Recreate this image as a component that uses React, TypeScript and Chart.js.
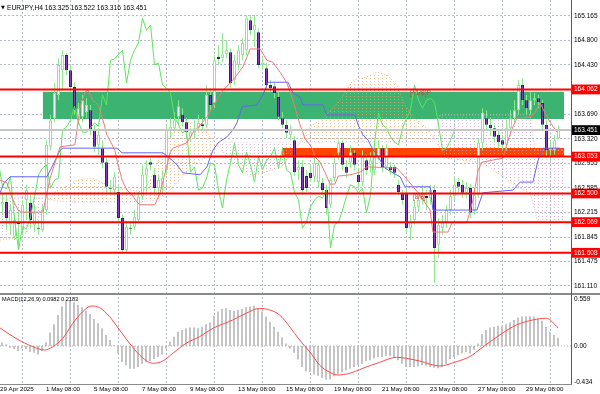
import React, { useEffect, useRef } from "react";
import { Chart, registerables } from "chart.js";

Chart.register(...registerables);

// ---------------- data (H4 candles, bar index 0..139) ----------------
const barOpen = [
  162.33, 162.37, 162.03, 161.85, 162.07, 161.95, 162.40, 162.36, 162.03, 161.98,
  161.95, 162.25, 163.20, 163.63, 163.98, 164.35, 164.58, 164.35, 164.10, 163.60,
  163.65, 163.72, 163.75, 163.45, 163.23, 163.18, 162.97, 162.58, 162.55, 162.52,
  162.13, 161.65, 161.98, 162.00, 162.10, 162.45, 162.78, 162.97, 162.78, 162.58,
  162.60, 162.85, 163.45, 163.48, 163.65, 163.68, 163.57, 163.35, 163.41, 163.48,
  163.54, 163.53, 163.98, 163.86, 164.55, 164.53, 164.59, 164.62, 164.20, 164.43,
  164.58, 164.65, 165.10, 164.95, 164.92, 164.43, 164.38, 164.13, 164.11, 163.95,
  163.63, 163.53, 163.38, 163.30, 162.85, 162.90, 162.76, 162.81, 162.75, 162.67,
  162.66, 162.55, 162.33, 162.73, 163.11, 163.26, 162.90, 162.96, 163.11, 162.78,
  162.67, 163.00, 162.93, 162.85, 163.05, 163.18, 162.90, 162.90, 162.90, 162.63,
  162.51, 162.51, 161.98, 162.10, 162.30, 162.40, 162.46, 162.43, 162.55, 161.73,
  161.98, 162.07, 162.25, 162.46, 162.67, 162.63, 162.51, 162.58, 162.25, 162.48,
  163.26, 163.63, 163.53, 163.48, 163.38, 163.30, 163.23, 163.48, 163.63, 163.75,
  164.13, 163.90, 163.75, 163.90, 163.93, 163.86, 163.53, 163.15, 163.15, 163.325,
];
const barHigh = [
  162.51, 162.51, 162.33, 162.18, 162.25, 162.40, 162.63, 162.48, 162.33, 162.10,
  162.33, 163.30, 163.68, 164.16, 164.53, 164.65, 164.61, 164.43, 164.17, 163.86,
  163.98, 163.93, 163.83, 163.53, 163.48, 163.30, 163.03, 162.70, 162.82, 162.63,
  162.18, 162.07, 162.07, 162.25, 162.52, 162.93, 163.00, 163.03, 162.88, 162.78,
  162.85, 163.53, 163.63, 163.72, 163.90, 163.78, 163.63, 163.48, 163.60, 163.68,
  163.63, 164.13, 164.08, 164.58, 164.73, 164.91, 164.80, 164.68, 164.58, 164.73,
  164.83, 165.18, 165.18, 165.18, 164.98, 164.53, 164.46, 164.20, 164.17, 164.02,
  163.72, 163.60, 163.53, 163.36, 163.00, 163.00, 162.85, 162.93, 163.08, 163.00,
  162.73, 162.63, 162.73, 163.08, 163.30, 163.30, 163.00, 163.23, 163.15, 162.88,
  163.15, 163.08, 163.12, 163.15, 163.30, 163.23, 163.24, 162.97, 162.93, 162.70,
  162.55, 162.55, 162.18, 162.40, 162.48, 162.63, 162.55, 162.63, 162.63, 162.13,
  162.18, 162.33, 162.55, 162.73, 162.73, 162.70, 162.66, 162.64, 162.58, 163.33,
  163.78, 163.75, 163.63, 163.53, 163.45, 163.38, 163.60, 163.75, 163.90, 164.20,
  164.23, 163.98, 164.02, 164.01, 163.98, 163.90, 163.60, 163.30, 163.38, 163.522,
];
const barLow = [
  162.18, 161.95, 161.88, 161.80, 161.65, 161.88, 162.10, 161.98, 161.92, 161.88,
  161.92, 162.18, 163.15, 163.57, 163.90, 164.05, 164.28, 164.02, 163.68, 163.53,
  163.57, 163.63, 163.38, 163.12, 163.08, 162.88, 162.52, 162.48, 162.48, 162.07,
  161.62, 161.60, 161.88, 161.95, 162.06, 162.40, 162.52, 162.85, 162.52, 162.48,
  162.52, 162.78, 163.33, 163.42, 163.53, 163.50, 163.33, 163.27, 163.33, 163.42,
  163.45, 163.48, 163.75, 163.78, 164.43, 164.47, 164.53, 164.08, 164.13, 164.35,
  164.50, 164.58, 164.88, 164.70, 164.38, 164.35, 164.05, 164.02, 163.93, 163.60,
  163.48, 163.33, 163.30, 162.76, 162.70, 162.48, 162.52, 162.67, 162.67, 162.58,
  162.48, 162.18, 162.28, 162.67, 163.00, 162.85, 162.73, 162.88, 162.85, 162.58,
  162.61, 162.78, 162.82, 162.78, 163.00, 162.82, 162.85, 162.78, 162.73, 162.48,
  162.33, 161.92, 161.80, 162.03, 162.22, 162.33, 162.25, 162.33, 161.15, 161.53,
  161.88, 161.98, 162.18, 162.40, 162.52, 162.43, 162.43, 162.13, 162.18, 162.43,
  163.15, 163.45, 163.38, 163.27, 163.18, 163.15, 163.15, 163.42, 163.57, 163.68,
  163.83, 163.68, 163.68, 163.83, 163.78, 163.45, 163.03, 163.00, 163.08, 163.316,
];
const barClose = [
  162.37, 162.13, 162.25, 162.10, 162.04, 162.33, 162.55, 162.10, 162.21, 161.97,
  162.25, 163.23, 163.60, 164.01, 164.43, 164.58, 164.35, 164.10, 163.75, 163.78,
  163.90, 163.83, 163.45, 163.20, 163.38, 162.96, 162.60, 162.57, 162.75, 162.13,
  161.65, 162.00, 161.97, 162.15, 162.45, 162.78, 162.88, 162.93, 162.58, 162.70,
  162.73, 163.45, 163.50, 163.60, 163.81, 163.57, 163.42, 163.42, 163.48, 163.56,
  163.51, 163.98, 163.83, 164.50, 164.52, 164.59, 164.65, 164.16, 164.50, 164.65,
  164.76, 165.13, 164.95, 165.03, 164.43, 164.46, 164.13, 164.08, 164.01, 163.65,
  163.53, 163.41, 163.45, 162.82, 162.90, 162.55, 162.58, 162.73, 162.96, 162.93,
  162.55, 162.28, 162.70, 162.96, 163.26, 162.93, 162.81, 163.12, 162.93, 162.67,
  163.05, 162.85, 163.00, 163.05, 163.18, 162.88, 163.18, 162.85, 162.81, 162.52,
  162.40, 161.98, 162.07, 162.30, 162.40, 162.46, 162.43, 162.55, 161.68, 162.03,
  162.07, 162.25, 162.46, 162.63, 162.60, 162.51, 162.58, 162.21, 162.48, 163.26,
  163.71, 163.53, 163.48, 163.35, 163.27, 163.23, 163.48, 163.63, 163.75, 164.13,
  163.90, 163.78, 163.90, 163.93, 163.87, 163.53, 163.15, 163.18, 163.30, 163.451,
];

// Ichimoku lines (bar position, price)
const tenkanX = [-0.6, 1.1, 2.6, 3.9, 4.9, 10.1, 11.9, 14.4, 18.1, 19.4, 20.6, 21.4, 22.6, 23.9, 24.9, 26.1, 27.4, 28.1, 28.6, 29.9, 31.1, 32.4, 33.6, 34.4, 38.1, 39.4, 41.9, 42.6, 46.1, 47.6, 49.9, 51.1, 53.1, 55.1, 57.6, 60.1, 61.9, 64.4, 66.1, 67.6, 69.4, 71.1, 72.6, 74.4, 75.6, 77.4, 78.1, 79.4, 80.6, 81.9, 83.1, 83.9, 86.9, 89.4, 91.1, 98.6, 100.6, 103.9, 106.9, 107.6, 111.4, 112.4, 116.1, 117.6, 118.9, 119.9, 125.1, 126.4, 127.6, 128.6, 131.9, 133.1, 134.4, 135.6, 136.9, 138.6];
const tenkanY = [162.70, 162.66, 162.40, 162.25, 162.22, 162.22, 162.73, 163.20, 163.23, 163.80, 164.02, 164.05, 163.90, 163.83, 163.65, 163.38, 163.23, 163.15, 163.00, 162.70, 162.55, 162.48, 162.37, 162.33, 162.33, 162.51, 163.11, 163.18, 163.26, 163.41, 163.56, 163.65, 163.86, 164.05, 164.20, 164.40, 164.67, 164.67, 164.50, 164.47, 164.32, 164.16, 163.90, 163.53, 163.33, 163.18, 163.05, 162.97, 162.82, 162.64, 162.64, 162.76, 162.78, 162.82, 162.90, 162.88, 162.75, 162.51, 162.25, 161.92, 161.92, 162.06, 162.06, 162.40, 162.85, 162.97, 163.03, 163.30, 163.50, 163.63, 163.65, 163.71, 163.86, 163.71, 163.57, 163.42];
const kijunX = [-0.6, 0.4, 1.9, 11.1, 12.4, 14.4, 15.1, 28.6, 29.9, 40.1, 42.4, 43.6, 45.1, 49.4, 51.1, 52.6, 53.9, 56.1, 57.6, 58.6, 59.9, 63.6, 65.1, 66.4, 71.4, 72.6, 74.4, 75.1, 80.1, 81.1, 88.1, 88.9, 90.1, 91.4, 92.4, 93.6, 95.6, 97.6, 99.4, 100.6, 106.9, 107.6, 118.6, 120.1, 127.6, 129.4, 132.6, 133.9, 135.1, 139.4];
const kijunY = [162.51, 162.66, 162.75, 162.75, 162.90, 163.15, 163.18, 163.18, 163.11, 163.11, 163.00, 162.93, 162.81, 162.78, 162.90, 163.15, 163.26, 163.35, 163.45, 163.56, 163.80, 163.83, 163.98, 164.17, 164.17, 164.01, 163.95, 163.83, 163.83, 163.68, 163.68, 163.53, 163.38, 163.30, 163.18, 163.08, 162.88, 162.81, 162.75, 162.60, 162.60, 162.25, 162.25, 162.51, 162.55, 162.67, 162.67, 163.00, 163.18, 163.18];
const cloudX = [-0.6, 4.4, 8.1, 10.6, 13.1, 18.6, 22.6, 26.1, 29.4, 35.1, 36.9, 39.4, 42.6, 45.1, 47.6, 50.1, 51.9, 53.6, 55.6, 58.1, 61.9, 65.6, 69.4, 73.1, 76.9, 80.1, 84.4, 87.6, 91.1, 93.6, 96.1, 98.6, 100.6, 102.6, 105.6, 107.4, 109.4, 111.1, 120.1, 125.1, 128.6, 131.9, 133.1, 133.6, 140.6];
const spanA = [161.80, 161.83, 162.03, 162.33, 162.52, 162.70, 162.73, 162.63, 162.58, 162.52, 162.70, 163.05, 163.41, 163.56, 163.57, 163.50, 163.35, 163.24, 163.08, 162.93, 162.75, 162.82, 162.88, 163.15, 163.50, 163.63, 163.90, 164.20, 164.25, 164.32, 164.28, 164.13, 163.83, 163.65, 163.50, 163.38, 163.18, 163.03, 162.96, 162.75, 162.60, 162.51, 162.25, 162.10, 162.10];
const spanB = [162.43, 162.43, 162.43, 162.43, 162.39, 162.37, 162.37, 162.37, 162.37, 162.37, 162.39, 162.40, 162.60, 162.75, 162.93, 163.02, 163.08, 163.20, 163.27, 163.27, 163.27, 163.27, 163.27, 163.27, 163.27, 163.27, 163.27, 163.27, 163.27, 163.27, 163.27, 163.27, 163.27, 163.27, 163.27, 163.27, 163.68, 163.68, 163.68, 163.68, 163.68, 163.68, 163.15, 163.15, 163.15];
const chikouShift = 26;

// levels and zones
const levelLines = [164.062, 163.053, 162.5, 162.069, 161.608];
const bidPrice = 163.451;
const greenZoneX = [10.05, 140.4];
const greenZoneY = [164.028, 163.618];
const orangeZoneX = [69.9, 140.4];
const orangeZoneY = [163.182, 163.055];
const murreyText = ["[+1/8]P", "[8/8]"];
const murreyX = [101.9, 102.6];
const murreyY = [164.062, 162.5];

// axes
const priceTicks = [161.11, 161.475, 161.845, 162.215, 162.585, 162.955, 163.32, 163.69, 164.43, 164.8, 165.165];
const gridBars = [5, 17, 29, 41, 53, 65, 77, 89, 101, 113, 125, 137];
const timeTickBars = [-0.5, 11, 23, 35, 47, 59, 71, 83, 95, 107, 119, 131];
const timeLabels = ["29 Apr 2025", "1 May 08:00", "5 May 08:00", "7 May 08:00", "9 May 08:00", "13 May 08:00", "15 May 08:00", "19 May 08:00", "21 May 08:00", "23 May 08:00", "27 May 08:00", "29 May 08:00"];

// MACD
const macdHist = [
  0.044, 0.02, -0.02, -0.035, -0.06, -0.03, -0.035, -0.07, -0.08, -0.10,
  -0.06, 0.045, 0.16, 0.26, 0.37, 0.47, 0.54, 0.54, 0.52, 0.49,
  0.46, 0.42, 0.38, 0.32, 0.27, 0.21, 0.13, 0.07, 0.01, -0.09,
  -0.19, -0.23, -0.27, -0.27, -0.25, -0.21, -0.19, -0.18, -0.155, -0.13,
  -0.10, -0.03, 0.05, 0.11, 0.17, 0.19, 0.21, 0.22, 0.22, 0.21,
  0.23, 0.26, 0.28, 0.36, 0.41, 0.44, 0.45, 0.43, 0.42, 0.43,
  0.44, 0.46, 0.47, 0.48, 0.45, 0.41, 0.35, 0.29, 0.23, 0.17,
  0.10, 0.03, -0.03, -0.08, -0.16, -0.25, -0.30, -0.31, -0.34, -0.355,
  -0.38, -0.40, -0.40, -0.36, -0.33, -0.31, -0.29, -0.27, -0.25, -0.23,
  -0.21, -0.18, -0.17, -0.15, -0.13, -0.13, -0.12, -0.12, -0.14, -0.17,
  -0.21, -0.25, -0.25, -0.25, -0.24, -0.23, -0.235, -0.25, -0.26, -0.265,
  -0.25, -0.21, -0.155, -0.13, -0.11, -0.09, -0.07, -0.09, -0.05, 0.03,
  0.14, 0.19, 0.22, 0.23, 0.24, 0.24, 0.26, 0.28, 0.31, 0.34,
  0.35, 0.355, 0.355, 0.35, 0.33, 0.30, 0.23, 0.17, 0.13, 0.0982,
];
const signalX = [-0.6, 3.5, 7.7, 10.6, 12.7, 15.2, 17.7, 20.2, 22.3, 24.4, 26.9, 29.4, 31.9, 34.4, 37.7, 40.2, 42.7, 46.0, 49.4, 52.7, 57.7, 61.0, 64.4, 66.9, 69.4, 71.9, 74.4, 76.9, 79.4, 81.9, 84.0, 86.9, 90.2, 94.4, 98.6, 101.1, 104.4, 109.4, 113.6, 116.9, 119.8, 124.4, 128.6, 132.7, 136.1, 139];
const signalY = [0.218, 0.091, -0.008, -0.048, -0.008, 0.091, 0.27, 0.41, 0.476, 0.456, 0.349, 0.19, 0.032, -0.107, -0.206, -0.179, -0.087, 0.032, 0.111, 0.21, 0.31, 0.389, 0.448, 0.429, 0.369, 0.23, 0.071, -0.067, -0.226, -0.313, -0.345, -0.325, -0.266, -0.194, -0.135, -0.147, -0.179, -0.238, -0.187, -0.127, -0.028, 0.131, 0.25, 0.31, 0.33, 0.2183];
const macdTicks = [-0.434, 0, 0.559];

// ---------------- component ----------------
const FONT = "'Liberation Sans', Arial, sans-serif";
const GRID = "#b4bccb";
const X_MIN = -0.625;
const X_MAX = 142.125;
const XM_MIN = -0.5;
const XM_MAX = 142.25;

function dots(color: string) {
  const c = document.createElement("canvas");
  c.width = 4;
  c.height = 3;
  const g = c.getContext("2d")!;
  g.fillStyle = color;
  g.fillRect(2, 0, 1, 1);
  return g.createPattern(c, "repeat")!;
}

export default function App() {
  const mainRef = useRef<HTMLCanvasElement>(null);
  const macdRef = useRef<HTMLCanvasElement>(null);

  useEffect(() => {
    document.body.style.margin = "0";
    const n = barClose.length;
    const isSpecial = (v: number) => levelLines.includes(v) || v === bidPrice;
    const hline = (y: number, a: number, b: number) => [
      { x: a, y },
      { x: b, y },
    ];
    const sand = dots("rgba(244,164,96,0.75)");
    const thistle = dots("rgba(204,160,212,0.75)");

    const lineBase = { type: "line", pointRadius: 0, tension: 0, fill: false, borderWidth: 1 };

    const datasets: any[] = [];
    datasets.push({
      ...lineBase,
      data: [
        { x: greenZoneX[0], y: greenZoneY[0] },
        { x: greenZoneX[1], y: greenZoneY[0] },
      ],
      fill: { value: greenZoneY[1] },
      backgroundColor: "#3cb371",
      borderColor: "rgba(0,0,0,0)",
      order: 100,
    });
    datasets.push({
      ...lineBase,
      data: [
        { x: orangeZoneX[0], y: orangeZoneY[0] },
        { x: orangeZoneX[1], y: orangeZoneY[0] },
      ],
      fill: { value: orangeZoneY[1] },
      backgroundColor: "#ff4500",
      borderColor: "rgba(0,0,0,0)",
      order: 99,
    });
    const bIndex = datasets.length;
    datasets.push({
      ...lineBase,
      data: cloudX.map((x, i) => ({ x, y: spanB[i] })),
      borderColor: "rgba(216,191,216,0.9)",
      borderDash: [1, 2],
      order: 89,
    });
    datasets.push({
      ...lineBase,
      data: cloudX.map((x, i) => ({ x, y: spanA[i] })),
      borderColor: "rgba(244,164,96,0.8)",
      borderDash: [1, 2],
      fill: { target: bIndex, above: sand, below: thistle },
      order: 90,
    });
    datasets.push({
      type: "bar",
      data: barLow.map((l, i) => ({ x: i, y: [l, barHigh[i]] })),
      backgroundColor: "#8fe88f",
      borderWidth: 0,
      barThickness: 1,
      grouped: false,
      inflateAmount: 0,
      order: 50,
    });
    datasets.push({
      type: "bar",
      data: barOpen.map((o, i) => ({ x: i, y: [o, barClose[i]] })),
      backgroundColor: barOpen.map((o, i) => (barClose[i] >= o ? "#ffffff" : "#8a38c8")),
      borderColor: barOpen.map((o, i) => (barClose[i] >= o ? "#8fe88f" : "#26266a")),
      borderWidth: 1,
      borderSkipped: false,
      barThickness: 3,
      minBarLength: 1,
      grouped: false,
      inflateAmount: 0,
      order: 49,
    });
    datasets.push({
      ...lineBase,
      data: barClose.map((c, i) => ({ x: i - chikouShift, y: c })),
      borderColor: "#5ae65a",
      order: 45,
    });
    datasets.push({
      ...lineBase,
      data: kijunX.map((x, i) => ({ x, y: kijunY[i] })),
      borderColor: "#6464f0",
      order: 44,
    });
    datasets.push({
      ...lineBase,
      data: tenkanX.map((x, i) => ({ x, y: tenkanY[i] })),
      borderColor: "#f27878",
      order: 43,
    });
    datasets.push({
      ...lineBase,
      data: hline(bidPrice, X_MIN, X_MAX),
      borderColor: "#c6c6c6",
      borderWidth: 2,
      order: 11,
    });
    levelLines.forEach((lv) =>
      datasets.push({
        ...lineBase,
        data: hline(lv, X_MIN, X_MAX),
        borderColor: "#ff0000",
        borderWidth: 2,
        order: 10,
      })
    );

    const mainText = {
      id: "mainText",
      afterDatasetsDraw(chart: any) {
        const { ctx, scales } = chart;
        ctx.save();
        ctx.fillStyle = "#000";
        ctx.textBaseline = "middle";
        ctx.font = `5px 'DejaVu Sans'`;
        ctx.fillText("\u25BC", 1, 8);
        ctx.font = `6.7px ${FONT}`;
        const last = n - 1;
        ctx.fillText(
          `EURJPY,H4 ${barOpen[last].toFixed(3)} ${barHigh[last].toFixed(3)} ${barLow[last].toFixed(3)} ${barClose[last].toFixed(3)}`,
          7,
          8
        );
        ctx.font = `6.5px ${FONT}`;
        ctx.fillStyle = "#d23c3c";
        ctx.textBaseline = "top";
        murreyText.forEach((t, i) => {
          ctx.fillText(t, scales.x.getPixelForValue(murreyX[i]), scales.y.getPixelForValue(murreyY[i]) + 0.5);
        });
        ctx.restore();
      },
    };

    const main = new Chart(mainRef.current!, {
      type: "bar",
      data: { datasets },
      options: {
        responsive: false,
        maintainAspectRatio: false,
        animation: false,
        events: [],
        layout: { padding: 0 },
        plugins: { legend: { display: false }, tooltip: { enabled: false } },
        scales: {
          x: {
            type: "linear",
            min: X_MIN,
            max: X_MAX,
            bounds: "data",
            offset: false,
            grid: { color: GRID, drawTicks: false, offset: false },
            border: { display: false, dash: [2, 2] },
            ticks: { display: false },
            afterBuildTicks: (s: any) => {
              s.ticks = gridBars.map((v) => ({ value: v }));
            },
            afterFit: (s: any) => {
              s.height = 0;
              s.paddingLeft = 0;
              s.paddingRight = 0;
            },
          },
          y: {
            type: "linear",
            position: "right",
            min: 161.0046,
            max: 165.4053,
            bounds: "data",
            beginAtZero: false,
            grid: {
              color: (c: any) => (c.tick && isSpecial(c.tick.value) ? "rgba(0,0,0,0)" : GRID),
              drawTicks: false,
            },
            border: { display: false, dash: [2, 2] },
            ticks: {
              autoSkip: false,
              padding: 3,
              font: { family: FONT, size: 6.5 },
              color: (c: any) => (isSpecial(c.tick.value) ? "#ffffff" : "#000000"),
              showLabelBackdrop: (c: any) => isSpecial(c.tick.value),
              backdropColor: (c: any) => (c.tick.value === bidPrice ? "#000000" : "#ff0000"),
              backdropPadding: { top: 1, bottom: 1, left: 3, right: 6 },
              callback: (v: any) => Number(v).toFixed(3),
            },
            afterBuildTicks: (s: any) => {
              const vals = [...priceTicks, ...levelLines, bidPrice].sort((a, b) => a - b);
              s.ticks = vals.map((v) => ({ value: v }));
            },
            afterFit: (s: any) => {
              s.width = 29;
              s.paddingTop = 0;
              s.paddingBottom = 0;
            },
          },
        },
      } as any,
      plugins: [mainText],
    } as any);

    const macdText = {
      id: "macdText",
      afterDatasetsDraw(chart: any) {
        const { ctx } = chart;
        ctx.save();
        ctx.fillStyle = "#000";
        ctx.textBaseline = "middle";
        ctx.font = `5.6px ${FONT}`;
        ctx.fillText(
          `MACD(12,26,9) ${macdHist[n - 1].toFixed(4)} ${signalY[signalY.length - 1].toFixed(4)}`,
          2,
          4.5
        );
        ctx.restore();
      },
    };

    const macd = new Chart(macdRef.current!, {
      type: "bar",
      data: {
        datasets: [
          {
            type: "bar",
            data: macdHist.map((v, i) => ({ x: i, y: v })),
            backgroundColor: "#c4c4c4",
            borderWidth: 0,
            barThickness: 2,
            grouped: false,
            inflateAmount: 0,
            order: 20,
          },
          {
            ...lineBase,
            data: hline(0, XM_MIN, XM_MAX),
            borderColor: "#b4b4b4",
            borderDash: [1, 2],
            order: 15,
          },
          {
            ...lineBase,
            data: signalX.map((x, i) => ({ x, y: signalY[i] })),
            borderColor: "#ff4a4a",
            cubicInterpolationMode: "monotone",
            order: 10,
          },
        ],
      },
      options: {
        responsive: false,
        maintainAspectRatio: false,
        animation: false,
        events: [],
        layout: { padding: { top: 2, left: 0, right: 0, bottom: 0 } },
        plugins: { legend: { display: false }, tooltip: { enabled: false } },
        scales: {
          x: {
            type: "linear",
            min: XM_MIN,
            max: XM_MAX,
            bounds: "data",
            offset: false,
            grid: { color: GRID, drawTicks: false, offset: false },
            border: { display: false, dash: [2, 2] },
            ticks: { display: false },
            afterBuildTicks: (s: any) => {
              s.ticks = gridBars.map((v) => ({ value: v }));
            },
            afterFit: (s: any) => {
              s.height = 0;
              s.paddingLeft = 0;
              s.paddingRight = 0;
            },
          },
          xl: {
            type: "linear",
            position: "bottom",
            min: XM_MIN,
            max: XM_MAX,
            bounds: "data",
            offset: false,
            grid: { display: false, drawTicks: false, offset: false },
            border: { display: false },
            ticks: {
              autoSkip: false,
              maxRotation: 0,
              minRotation: 0,
              align: "start",
              padding: 2,
              color: "#000",
              font: { family: FONT, size: 6.2 },
              callback: (_v: any, i: number) => timeLabels[i],
            },
            afterBuildTicks: (s: any) => {
              s.ticks = timeTickBars.map((v) => ({ value: v }));
            },
            afterFit: (s: any) => {
              s.height = 10;
              s.paddingLeft = 0;
              s.paddingRight = 0;
            },
          },
          y: {
            type: "linear",
            position: "right",
            min: -0.4524,
            max: 0.5833,
            bounds: "data",
            beginAtZero: false,
            grid: { display: false, drawTicks: false },
            border: { display: false },
            ticks: {
              autoSkip: false,
              padding: 3,
              color: "#000",
              font: { family: FONT, size: 6.5 },
              callback: (v: any) => (Number(v) === 0 ? "0.00" : Number(v).toFixed(3)),
            },
            afterBuildTicks: (s: any) => {
              s.ticks = macdTicks.map((v) => ({ value: v }));
            },
            afterFit: (s: any) => {
              s.width = 29;
              s.paddingTop = 0;
              s.paddingBottom = 0;
            },
          },
        },
      } as any,
      plugins: [macdText],
    } as any);

    return () => {
      main.destroy();
      macd.destroy();
    };
  }, []);

  return (
    <div style={{ position: "relative", width: 600, height: 394, background: "#ffffff", overflow: "hidden" }}>
      <canvas ref={mainRef} width={600} height={293} style={{ position: "absolute", left: 0, top: 0, display: "block" }} />
      <div style={{ position: "absolute", left: 0, top: 293, width: 600, height: 2, background: "#8a8a8a" }} />
      <canvas ref={macdRef} width={600} height={99} style={{ position: "absolute", left: 0, top: 295, display: "block" }} />
      <div style={{ position: "absolute", left: 571, top: 0, width: 1, height: 385, background: "#5a5a5a" }} />
      <div style={{ position: "absolute", left: 0, top: 384, width: 572, height: 1, background: "#8a8a8a" }} />
    </div>
  );
}
